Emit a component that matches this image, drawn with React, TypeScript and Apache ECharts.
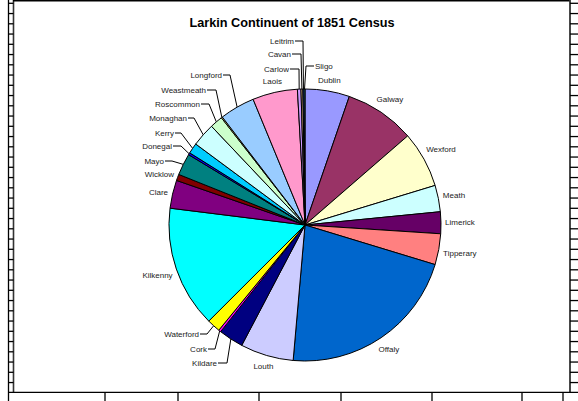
import React, { useEffect, useRef } from "react";
import * as echarts from "echarts";

// ---- data ----
const counties = [
  "Dublin", "Galway", "Wexford", "Meath", "Limerick", "Tipperary", "Offaly",
  "Louth", "Kildare", "Cork", "Waterford", "Kilkenny", "Clare", "Wicklow",
  "Mayo", "Donegal", "Kerry", "Monaghan", "Roscommon", "Weastmeath",
  "Longford", "Laois", "Carlow", "Cavan", "Leitrim", "Sligo",
];
const population = [
  190, 300, 240, 113, 93, 132, 780,
  227, 106, 10, 57, 520, 120, 27,
  93, 9, 45, 100, 55, 5,
  150, 192, 15, 8, 5, 4,
];
const sliceColors = [
  "#9999FF", "#993366", "#FFFFCC", "#CCFFFF", "#660066", "#FF8080", "#0066CC",
  "#CCCCFF", "#000080", "#FF00FF", "#FFFF00", "#00FFFF", "#800080", "#800000",
  "#008080", "#0000FF", "#00CCFF", "#CCFFFF", "#CCFFCC", "#FFFF99",
  "#99CCFF", "#FF99CC", "#CC99FF", "#FFCC99", "#3366FF", "#33CCCC",
];
const chartTitle = "Larkin Continuent of 1851 Census";

// ---- layout (positions only, not data) ----
const CX = 305;
const CY = 225;
const R = 136;
const GAP = 4;
// labels drawn with a leader line: text anchor (x,y), elbow x, alignment
const leaderLabels: Record<string, { x: number; y: number; elbow: number; align: "left" | "right" }> = {
  Waterford: { x: 199, y: 334, elbow: 207, align: "right" },
  Cork: { x: 207, y: 349, elbow: 215, align: "right" },
  Kildare: { x: 217, y: 363, elbow: 227, align: "right" },
  Mayo: { x: 164, y: 161, elbow: 172, align: "right" },
  Donegal: { x: 172, y: 146, elbow: 181, align: "right" },
  Kerry: { x: 174, y: 133, elbow: 181, align: "right" },
  Monaghan: { x: 187, y: 118, elbow: 194, align: "right" },
  Roscommon: { x: 200, y: 104, elbow: 209, align: "right" },
  Weastmeath: { x: 206, y: 90, elbow: 216, align: "right" },
  Longford: { x: 222, y: 75, elbow: 230, align: "right" },
  Carlow: { x: 289, y: 69, elbow: 299, align: "right" },
  Cavan: { x: 291, y: 54, elbow: 301, align: "right" },
  Leitrim: { x: 294, y: 41, elbow: 303, align: "right" },
  Sligo: { x: 315, y: 66, elbow: 306, align: "left" },
};
// small nudges for outside labels without leaders
const labelNudge: Record<string, [number, number]> = {
  Wicklow: [0, 4],
  Clare: [0, 2],
};
const bottomTicks = [105, 178, 259, 341, 432, 522, 563];

export default function App() {
  const ref = useRef<HTMLDivElement>(null);
  useEffect(() => {
    if (!ref.current) return;
    const chart = echarts.init(ref.current, null, { renderer: "svg" });
    const total = population.reduce((a, b) => a + b, 0);
    const midAngles: number[] = [];
    let acc = 0;
    population.forEach((v) => {
      midAngles.push(((acc + v / 2) / total) * 2 * Math.PI);
      acc += v;
    });

    const frame: any[] = [];
    const ln = (x1: number, y1: number, x2: number, y2: number, stroke = "#000", w = 1.3) =>
      frame.push({ type: "line", silent: true, shape: { x1, y1, x2, y2 }, style: { stroke, lineWidth: w } });
    ln(8.5, 0, 8.5, 401);
    ln(13.5, 0, 13.5, 392.5, "#333", 1.6);
    ln(13, 0.7, 570, 0.7, "#000", 1.5);
    ln(570, 0, 570, 392.5, "#333", 1.8);
    ln(8, 392.3, 578, 392.3, "#000", 1.3);
    for (let y = 3.3; y < 390; y += 10.25) {
      ln(8, y, 13.5, y);
      ln(570, y, 578, y);
    }
    bottomTicks.forEach((x) => ln(x, 392, x, 401));
    frame.push({
      type: "text",
      x: 292,
      y: 23,
      style: {
        text: chartTitle,
        font: "bold 12.7px 'Liberation Sans', Arial, sans-serif",
        fill: "#000",
        align: "center",
        verticalAlign: "middle",
      },
    });

    chart.setOption({
      animation: false,
      backgroundColor: "#fff",
      graphic: frame,
      series: [
        {
          type: "pie",
          center: [CX, CY],
          radius: R,
          startAngle: 90,
          clockwise: true,
          avoidLabelOverlap: false,
          silent: true,
          data: counties.map((name, i) => ({
            name,
            value: population[i],
            itemStyle: { color: sliceColors[i] },
            labelLine: { show: !!leaderLabels[name] },
          })),
          itemStyle: { borderColor: "#000", borderWidth: 1 },
          label: {
            show: true,
            position: "outside",
            formatter: "{b}",
            fontFamily: "'Liberation Sans', Arial, sans-serif",
            fontSize: 8,
            color: "#222",
          },
          labelLine: {
            length: 10,
            length2: 10,
            lineStyle: { color: "#000", width: 1 },
          },
          labelLayout: (p: any) => {
            const i = p.dataIndex;
            const a = midAngles[i];
            const s = Math.sin(a);
            const c = Math.cos(a);
            const lead = leaderLabels[counties[i]];
            if (lead) {
              const ex = CX + R * s;
              const ey = CY - R * c;
              const tx = lead.align === "right" ? lead.x + 1 : lead.x - 1;
              return {
                x: lead.x,
                y: lead.y,
                align: lead.align,
                verticalAlign: "middle",
                labelLinePoints: [
                  [ex, ey],
                  [lead.elbow, lead.y],
                  [tx, lead.y],
                ],
              };
            }
            const w = p.labelRect.width;
            const h = 10;
            const d = R + GAP + (w / 2) * Math.abs(s) + (h / 2) * Math.abs(c);
            const n = labelNudge[counties[i]] || [0, 0];
            return {
              x: CX + d * s + n[0],
              y: CY - d * c + n[1],
              align: "center",
              verticalAlign: "middle",
            };
          },
        },
      ],
    });
    return () => chart.dispose();
  }, []);
  return (
    <div
      ref={ref}
      style={{ position: "fixed", left: 0, top: 0, width: 578, height: 401, background: "#fff" }}
    />
  );
}
